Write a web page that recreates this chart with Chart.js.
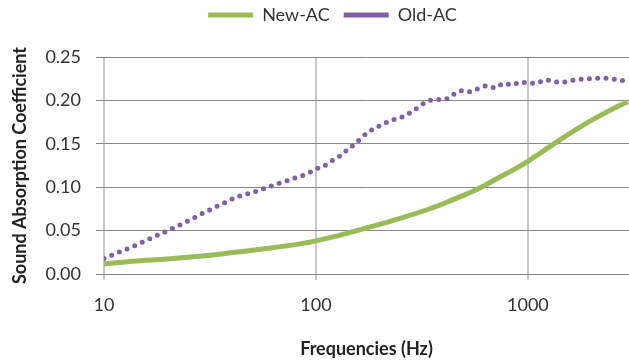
<!DOCTYPE html>
<html>
<head>
<meta charset="utf-8">
<title>Sound Absorption Coefficient</title>
<script src="https://cdn.jsdelivr.net/npm/chart.js@4.4.1/dist/chart.umd.min.js"></script>
<style>
    html, body { margin: 0; padding: 0; background: #ffffff; }
    #wrap { width: 629px; height: 362px; position: relative; }
</style>
</head>
<body>
<div id="wrap"><canvas id="absorptionChart"></canvas></div>
<script>
// --- DATA ---
const xTickValues = [10, 100, 1000];

const newFreq = [10, 13.7, 19.7, 28.3, 40.6, 58.3, 83.8, 100, 120, 173, 248, 356, 427, 512, 592,
    735, 914, 1000, 1136, 1411, 1753, 2179, 2707, 2963];
const newValues = [0.0115, 0.0147, 0.0173, 0.0204, 0.0247, 0.0293, 0.0347, 0.0382, 0.0427, 0.0531,
    0.0639, 0.0763, 0.0840, 0.0920, 0.0990, 0.1115, 0.1240, 0.1298, 0.1388, 0.1543, 0.1690, 0.1822,
    0.1942, 0.1985];

const oldFreq = [10, 12, 14.4, 17.3, 20.8, 24.9, 29.8, 35.6, 42.7, 51.8, 62.7, 76, 91.7, 100, 110,
    120, 130, 142, 153, 164, 178, 194, 212, 233, 256, 280, 304, 330, 364, 402, 440, 481, 531, 584,
    641, 702, 768, 841, 924, 1007, 1099, 1199, 1294, 1411, 1518, 1643, 1773, 1906, 2035, 2172,
    2318, 2474, 2620, 2775, 2942];
const oldValues = [0.018, 0.026, 0.034, 0.043, 0.052, 0.061, 0.071, 0.080, 0.089, 0.095, 0.102,
    0.109, 0.116, 0.121, 0.125, 0.131, 0.136, 0.144, 0.150, 0.157, 0.164, 0.169, 0.174, 0.178,
    0.181, 0.186, 0.192, 0.198, 0.201, 0.201, 0.206, 0.211, 0.210, 0.2136, 0.217, 0.2146, 0.2197,
    0.2177, 0.2212, 0.220, 0.2197, 0.2235, 0.2227, 0.2208, 0.2215, 0.2235, 0.2243, 0.2247, 0.2254,
    0.2254, 0.2254, 0.2247, 0.224, 0.2231, 0.222];

// --- STYLE ---
const GREEN = '#9bbb59';
const PURPLE = '#7f62a3';
const FONT = 'Lato, "Open Sans", sans-serif';

function toPoints(xs, ys) {
    return xs.map((x, i) => ({ x: x, y: ys[i] }));
}

// legend needs a bit more room below it and sits slightly right of centre
const legendTweak = {
    id: 'legendTweak',
    beforeInit(chart) {
        const fit = chart.legend.fit;
        chart.legend.fit = function () {
            fit.bind(chart.legend)();
            this.height = 57;
        };
    },
    afterLayout(chart) {
        chart.legend.top -= 8;
        chart.legend.left += 36;
    }
};

new Chart(document.getElementById('absorptionChart'), {
    type: 'line',
    data: {
        datasets: [{
            label: 'New-AC',
            data: toPoints(newFreq, newValues),
            borderColor: GREEN,
            backgroundColor: GREEN,
            borderWidth: 5,
            pointRadius: 0,
            cubicInterpolationMode: 'monotone',
            fill: false
        }, {
            label: 'Old-AC',
            data: toPoints(oldFreq, oldValues),
            borderColor: PURPLE,
            backgroundColor: PURPLE,
            borderWidth: 5,
            borderDash: [0, 8.3],
            borderCapStyle: 'round',
            pointRadius: 0,
            cubicInterpolationMode: 'monotone',
            fill: false
        }]
    },
    options: {
        responsive: true,
        maintainAspectRatio: false,
        animation: false,
        layout: { padding: 0 },
        plugins: {
            legend: {
                position: 'top',
                labels: {
                    usePointStyle: true,
                    pointStyle: 'line',
                    pointStyleWidth: 45,
                    padding: 14,
                    color: '#333333',
                    font: { family: FONT, size: 18 }
                }
            },
            tooltip: { enabled: false }
        },
        scales: {
            x: {
                type: 'logarithmic',
                min: 10,
                max: 3000,
                afterBuildTicks: (axis) => {
                    axis.ticks = xTickValues.map(v => ({ value: v }));
                },
                afterFit: (axis) => { axis.height = 88; },
                ticks: {
                    autoSkip: false,
                    maxRotation: 0,
                    padding: 14,
                    color: '#333333',
                    font: { family: FONT, size: 18 },
                    callback: (value) => String(value)
                },
                grid: {
                    color: '#c8c8c8',
                    lineWidth: 2,
                    tickLength: 6,
                    tickColor: '#c8c8c8'
                },
                border: { display: true, color: '#878787', width: 1 },
                title: {
                    display: true,
                    text: 'Frequencies (Hz)',
                    color: '#222222',
                    font: { family: FONT, size: 18, weight: 'bold' },
                    padding: { top: 4, bottom: 2 }
                }
            },
            y: {
                min: 0,
                max: 0.25,
                afterFit: (axis) => { axis.width = 104; },
                ticks: {
                    stepSize: 0.05,
                    padding: 15,
                    color: '#333333',
                    font: { family: FONT, size: 18 },
                    callback: (value) => Number(value).toFixed(2)
                },
                grid: {
                    color: '#878787',
                    lineWidth: 1,
                    tickLength: 8,
                    tickColor: '#878787'
                },
                border: { display: false },
                title: {
                    display: true,
                    text: 'Sound Absorption Coefficient',
                    color: '#222222',
                    font: { family: FONT, size: 18, weight: 'bold' },
                    padding: { top: 9, bottom: 4 }
                }
            }
        }
    },
    plugins: [legendTweak]
});
</script>
</body>
</html>
